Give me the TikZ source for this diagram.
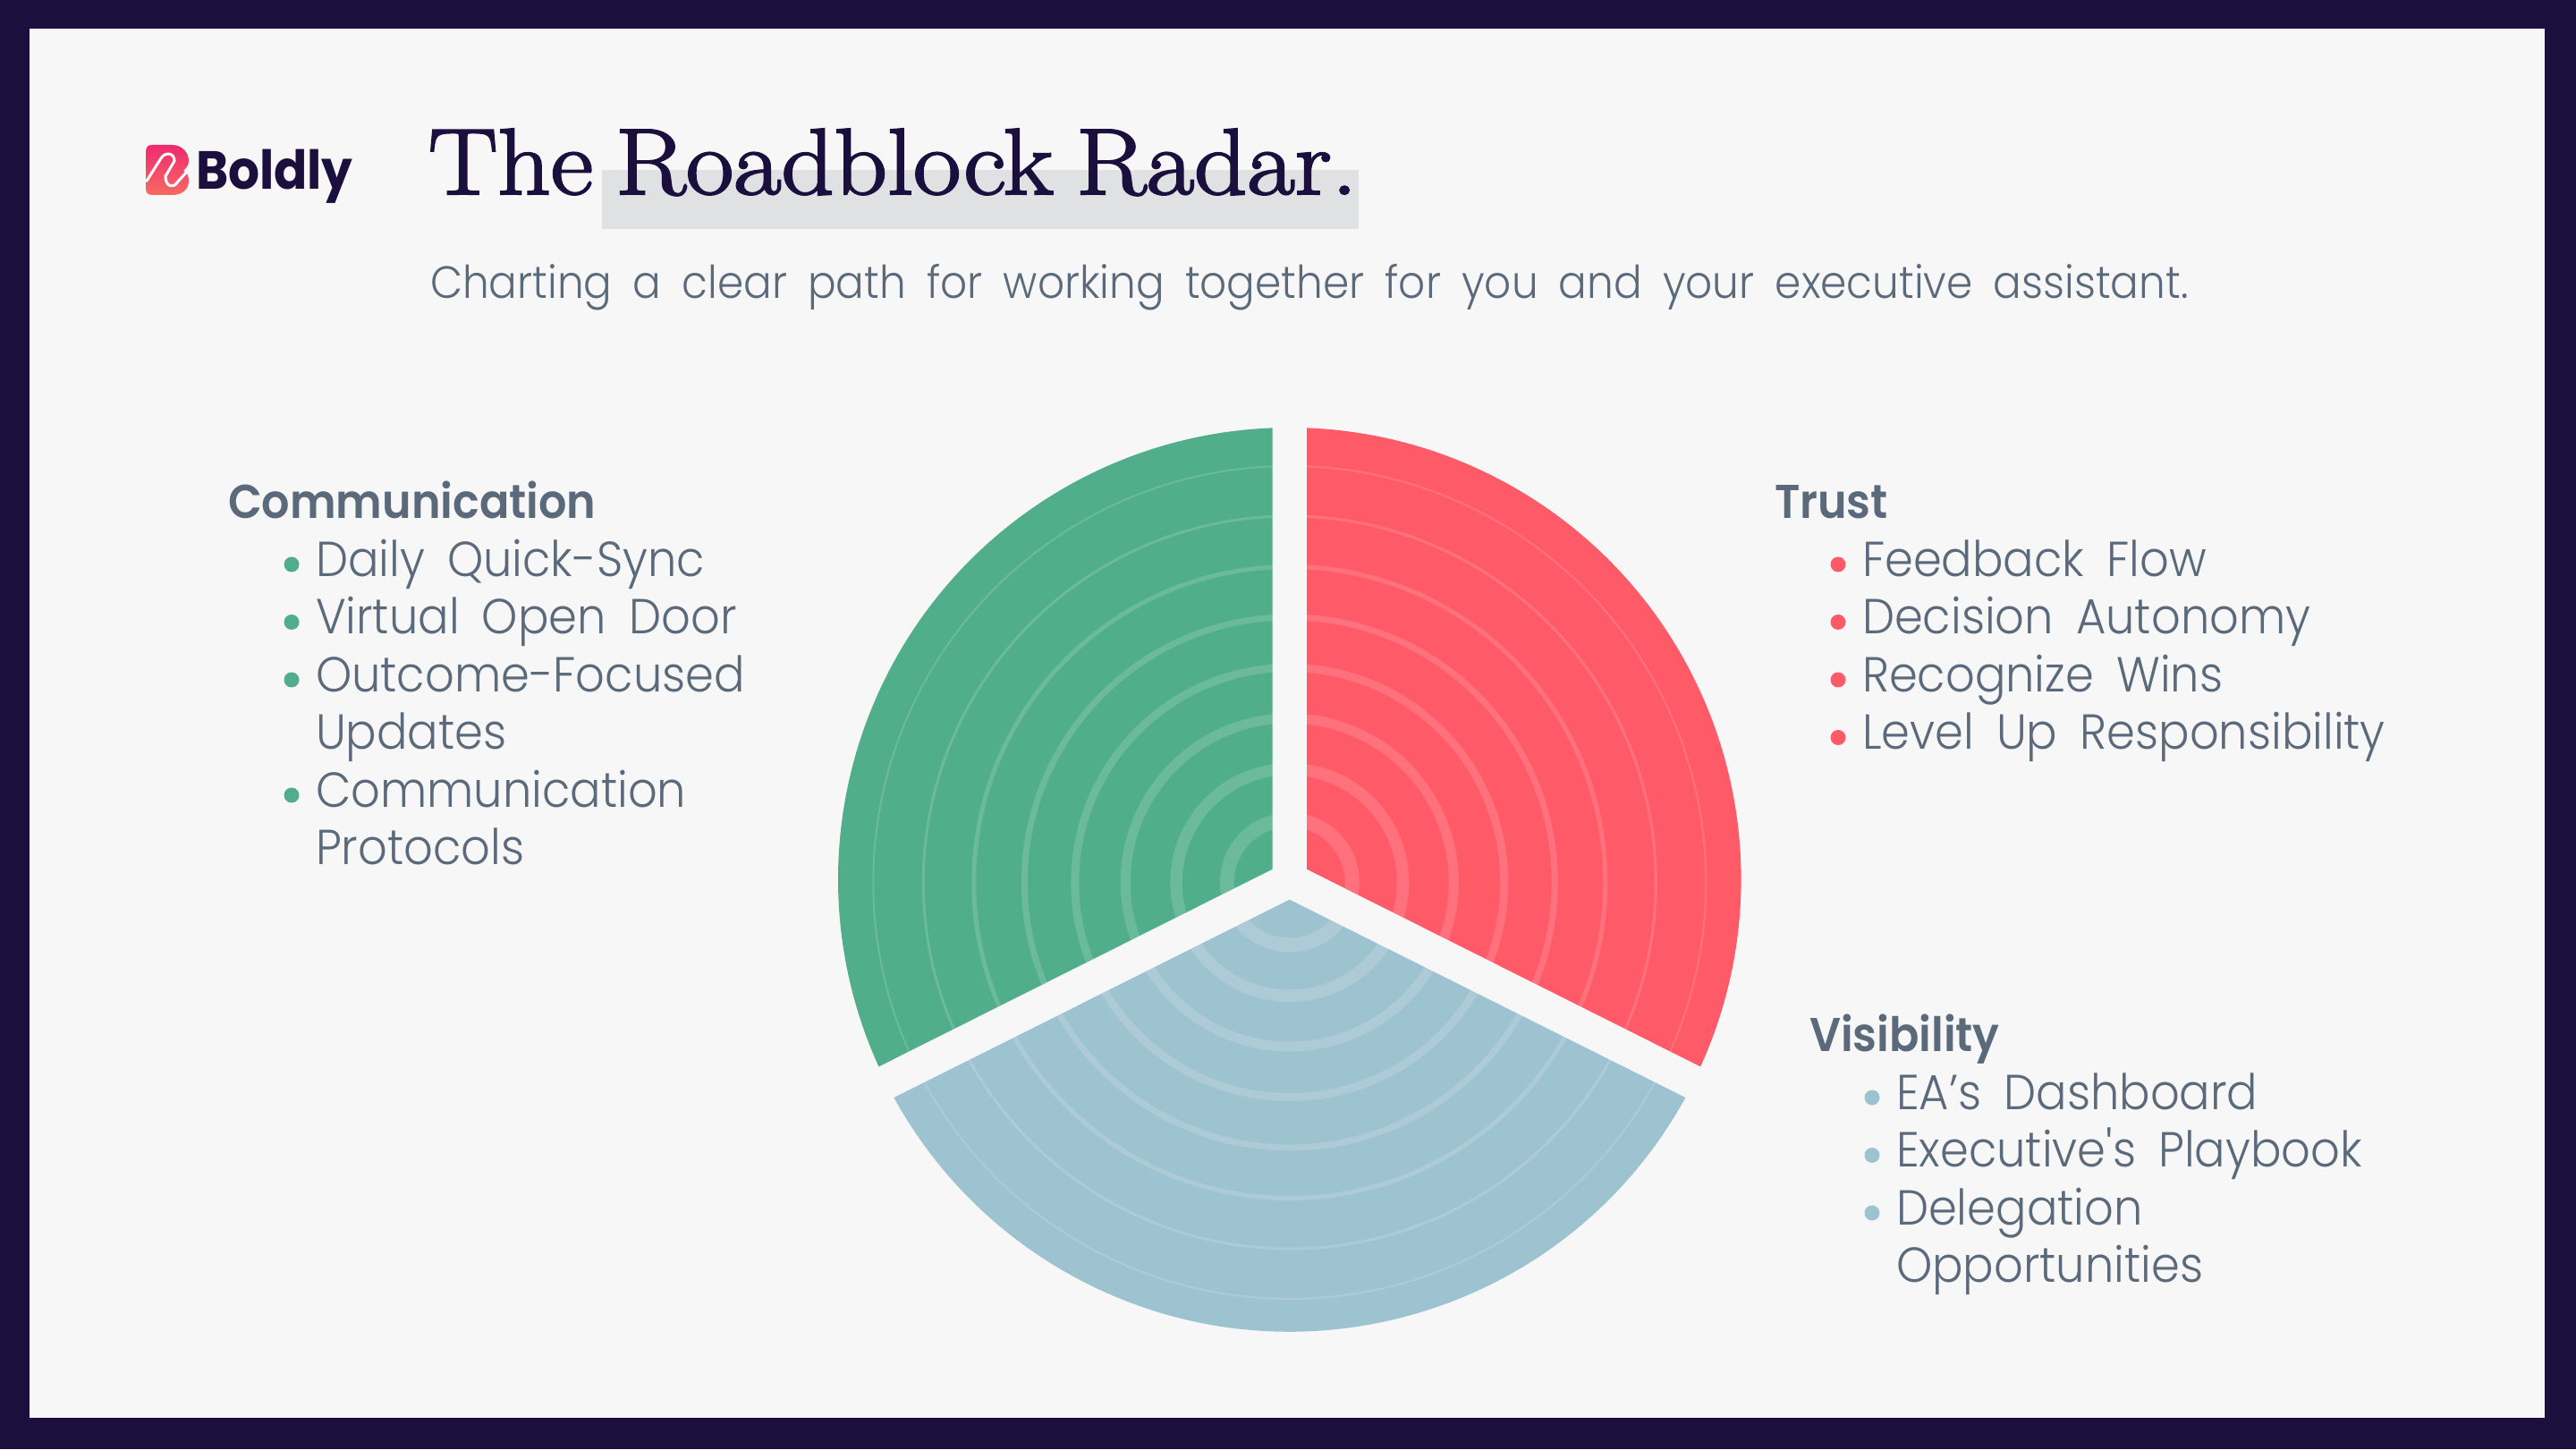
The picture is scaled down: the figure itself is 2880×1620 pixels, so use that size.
\documentclass[tikz,border=0pt]{standalone}
\usepackage{fontspec}
\usepackage{xcolor}
\usetikzlibrary{positioning,calc}
\setmainfont{Poppins}[UprightFont=* Light,BoldFont=* SemiBold,WordSpace=1.8,FakeStretch=0.93,Ligatures=TeXOff]
\newfontfamily\titlefont{Latin Modern Roman}[FakeBold=2.2,FakeStretch=1.105,WordSpace=0.72]
\newfontfamily\logofont{Poppins}[UprightFont=* Bold,FakeStretch=0.916]
\definecolor{framecol}{HTML}{1B103D}
\definecolor{pagecol}{HTML}{F7F7F8}
\definecolor{markcol}{HTML}{DFE1E3}
\definecolor{textcol}{HTML}{5B6A7B}
\definecolor{commcol}{HTML}{50AE8A}
\definecolor{trustcol}{HTML}{FF5A67}
\definecolor{viscol}{HTML}{9EC3D0}
\definecolor{logotop}{HTML}{EE2A70}
\definecolor{logobot}{HTML}{F76A63}
\newcommand{\radarrings}{%
  \foreach \k/\w in {0/16,1/13.5,2/11,3/9,4/7,5/5,6/3,7/2}
    \draw[white, opacity=.15, line width=\w pt] (ringhub) circle[radius=78+55.5*\k-\w/2];}
\begin{document}
\begin{tikzpicture}[x=1pt, y=1pt, inner sep=0pt, outer sep=0pt,
  head/.style={anchor=base west, text=textcol, font=\fontsize{53}{64}\selectfont\bfseries},
  item/.style={anchor=base west, text=textcol, font=\fontsize{55}{64}\selectfont},
  dot/.style={circle, minimum size=17pt, fill=#1}]
\useasboundingbox (0,0) rectangle (2880,1620);
\fill[framecol] (0,0) rectangle (2880,1620);
\fill[pagecol] (33,35) rectangle (2845,1588);
% logo
\shade[top color=logotop, bottom color=logobot] (163,1450) .. controls (163,1455) and (165,1458) .. (170,1458) -- (192,1458) .. controls (204,1458) and (211,1449) .. (211,1440) .. controls (211,1435) and (208,1432) .. (205,1429) .. controls (209,1427) and (211,1424) .. (211,1418) .. controls (211,1408) and (204,1402) .. (192,1402) -- (170,1402) .. controls (165,1402) and (163,1405) .. (163,1410) -- cycle;
\draw[white, line width=3pt] (163.5,1417) -- (180,1443) .. controls (184,1450) and (195,1450) .. (195,1440) -- (185,1423) .. controls (185,1410) and (195,1410) .. (198,1416) -- (209,1428);
\node[anchor=base west, text=framecol, font=\fontsize{60}{60}\logofont] (logo) at (219,1408) {Boldly};
% title
\fill[markcol] (673,1364) rectangle (1519,1430);
\node[anchor=base west, text=framecol, font=\fontsize{105}{105}\titlefont] (title) at (479,1403) {The Roadblock Radar.};
\node[anchor=base west, text=textcol, font=\fontsize{50.5}{60}\selectfont] (sub) at (481,1286) {Charting a clear path for working together for you and your executive assistant.};
% radar
\coordinate (ringhub) at (1441.8,633.5);
\begin{scope}
  \clip (1461,648.3) -- (1461,1141.6) arc[start angle=87.8, end angle=-24.5, radius=505] -- cycle;
  \fill[trustcol] (900,100) rectangle (2000,1200);
  \radarrings
\end{scope}
\begin{scope}
  \clip (1422.6,648.3) -- (1422.6,1141.6) arc[start angle=92.2, end angle=204.5, radius=505] -- cycle;
  \fill[commcol] (900,100) rectangle (2000,1200);
  \radarrings
\end{scope}
\begin{scope}
  \clip (1441.7,614.3) -- (1884.4,393) arc[start angle=-28.8, end angle=-151.2, radius=505] -- cycle;
  \fill[viscol] (900,100) rectangle (2000,1200);
  \radarrings
\end{scope}
% lists
\node[head] (commhead) at (255,1040) {Communication};
\node[head] (trusthead) at (1984,1040) {Trust};
\node[head] (vishead) at (2023,444) {Visibility};
\foreach \row/\txt in {1/Daily Quick-Sync,2/Virtual Open Door,3/Outcome-Focused,5/Communication}{
  \node[item] (comm\row) at ($(commhead.base west)+(98,-64.5*\row)$) {\txt};
  \node[dot=commcol] (commdot\row) at ($(comm\row.base west)+(-27,13.5)$) {};
}
\node[item] (comm4) at ($(commhead.base west)+(98,-258)$) {Updates};
\node[item] (comm6) at ($(commhead.base west)+(98,-387)$) {Protocols};
\foreach \row/\txt in {1/Feedback Flow,2/Decision Autonomy,3/Recognize Wins,4/Level Up Responsibility}{
  \node[item] (trust\row) at ($(trusthead.base west)+(98,-64.5*\row)$) {\txt};
  \node[dot=trustcol] (trustdot\row) at ($(trust\row.base west)+(-27,13.5)$) {};
}
\foreach \row/\txt in {1/EA’s Dashboard,2/Executive's Playbook,3/Delegation}{
  \node[item] (vis\row) at ($(vishead.base west)+(97,-64.5*\row)$) {\txt};
  \node[dot=viscol] (visdot\row) at ($(vis\row.base west)+(-27,13.5)$) {};
}
\node[item] (vis4) at ($(vishead.base west)+(97,-258)$) {Opportunities};
\end{tikzpicture}
\end{document}
